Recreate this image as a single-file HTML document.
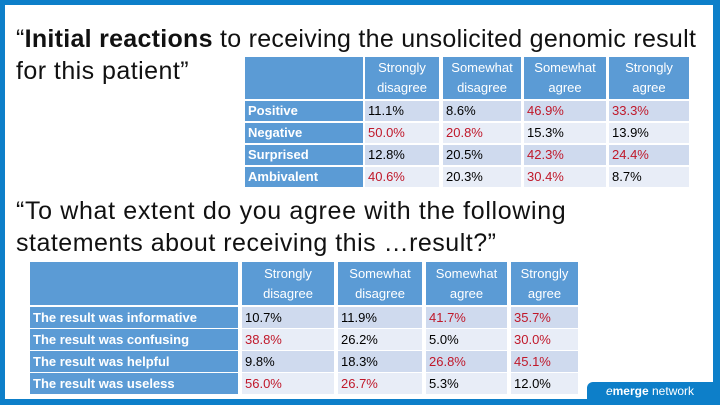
<!DOCTYPE html>
<html><head><meta charset="utf-8"><style>
*{margin:0;padding:0;box-sizing:border-box}
body{width:720px;height:405px;overflow:hidden;background:#0d7fc9;font-family:"Liberation Sans",sans-serif;position:relative}
#slide{position:absolute;left:5px;top:5px;width:708px;height:394px;background:#fff}
.t{position:absolute;white-space:nowrap;color:#111;font-size:25px;letter-spacing:0.45px}
.c{position:absolute;font-size:13px;line-height:20px;padding-left:3px;white-space:nowrap}
.h{background:#5b9bd5;color:#fff;text-align:center;line-height:20px;padding:0}
.lab{background:#5b9bd5;color:#fff;font-weight:bold}
.r{color:#c0182a}
.a{background:#cfdaee}.b{background:#e8edf7}
#logo{position:absolute;left:587px;top:382px;width:126px;height:18px;background:#0d7fc9;border-top-left-radius:6px;color:#fff;font-size:12px;line-height:18px;text-align:center}
</style></head><body>
<div id="slide"></div>
<div class="t" style="left:16px;top:25px;letter-spacing:0.28px">“<b>Initial reactions</b> to receiving the unsolicited genomic result</div>
<div class="t" style="left:16px;top:57px">for this patient”</div>
<div class="t" style="left:16px;top:197px;letter-spacing:0.65px">“To what extent do you agree with the following</div>
<div class="t" style="left:16px;top:229px;letter-spacing:0.5px">statements about receiving this …result?”</div>
<div id="t1"></div>
<div id="t2"></div>
<div id="logo"><i>e</i><b>merge</b> network</div>
<script>
const heads=["Strongly|disagree","Somewhat|disagree","Somewhat|agree","Strongly|agree"];
const rows1=["Positive","Negative","Surprised","Ambivalent"];
const vals1=[["11.1%","8.6%","46.9%","33.3%"],["50.0%","20.8%","15.3%","13.9%"],["12.8%","20.5%","42.3%","24.4%"],["40.6%","20.3%","30.4%","8.7%"]];
const red1=[[0,0,1,1],[1,1,0,0],[0,0,1,1],[1,0,1,0]];
const rows2=["The result was informative","The result was confusing","The result was helpful","The result was useless"];
const vals2=[["10.7%","11.9%","41.7%","35.7%"],["38.8%","26.2%","5.0%","30.0%"],["9.8%","18.3%","26.8%","45.1%"],["56.0%","26.7%","5.3%","12.0%"]];
const red2=[[0,0,1,1],[1,0,0,1],[0,0,1,1],[1,1,0,0]];
function add(p,x,y,w,h,cls,html,name){const d=document.createElement('div');d.className='c '+cls;d.style.cssText=`left:${x}px;top:${y}px;width:${w}px;height:${h}px`;d.innerHTML=html;


p.appendChild(d);}
function table(id,lab,cols,hy,hh,rys,rh,rows,vals,red){const p=document.getElementById(id);
add(p,lab[0],hy,lab[1],hh,'h','','header-blank');
cols.forEach((c,i)=>{add(p,c[0],hy,c[1],hh,'h',heads[i].replace('|','<br>'),'header-'+(i+1));p.lastChild.style.paddingTop=((hh-40)/2)+'px';});
rows.forEach((r,j)=>{const y=rys[j];add(p,lab[0],y,lab[1],rh,'lab',r,'row-label-'+(j+1));p.lastChild.style.lineHeight=rh+'px';
vals[j].forEach((v,i)=>{add(p,cols[i][0],y,cols[i][1],rh,(j%2?'b':'a')+(red[j][i]?' r':''),v,'cell-'+(j+1)+'-'+(i+1));p.lastChild.style.lineHeight=rh+'px';});});}
table('t1',[245,118],[[365,74],[443,78],[524,82],[609,80]],57,42,[101,123,145,167],20,rows1,vals1,red1);
table('t2',[30,208],[[242,92],[338,84],[426,81],[511,67]],262,43,[307,329,351,373],21,rows2,vals2,red2);
</script>
</body></html>
